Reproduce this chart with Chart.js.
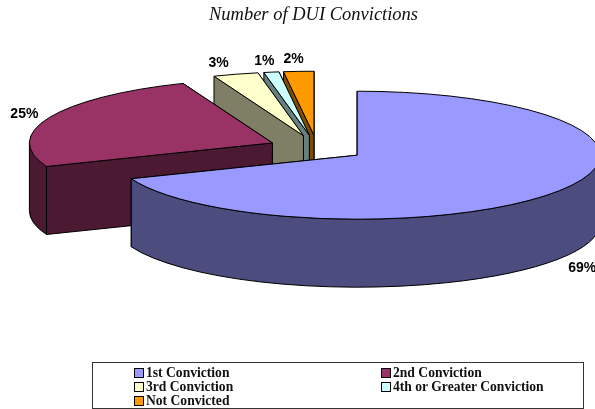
<!DOCTYPE html>
<html>
<head>
<meta charset="utf-8">
<script src="https://cdn.jsdelivr.net/npm/chart.js@4"></script>
<style>
  html, body { margin: 0; padding: 0; background: #fff; }
  #wrap { position: relative; width: 595px; height: 409px; overflow: hidden; }
  #legend {
    position: absolute; left: 92px; top: 362px; width: 492px; height: 47px; box-sizing: border-box;
    border: 1px solid #333; padding: 3px 0 0 41px;
    display: grid; grid-template-columns: 247px 1fr; grid-auto-rows: 14px;
    font: bold 13.6px "Liberation Serif", serif; color: #111;
  }
  #legend div { display: flex; align-items: center; white-space: nowrap; }
  #legend span { width: 8px; height: 8px; border: 1px solid #000; margin-right: 2px; flex: none; }
</style>
</head>
<body>
<div id="wrap">
  <canvas id="chart" width="595" height="409"></canvas>
  <div id="legend"></div>
</div>
<script>
const categories = ["1st Conviction", "2nd Conviction", "3rd Conviction", "4th or Greater Conviction", "Not Convicted"];
const convictionShares = [69, 25, 3, 1, 2];
const topColors = ["#9999FF", "#993366", "#FFFFCC", "#CCFFFF", "#FF9900"];
const sideColors = ["#4C4C7F", "#4C1933", "#7F7F66", "#667F7F", "#7F4C00"];
// label offset from the rim of each slice, in pixels
const labelNudgeX = [24, -25, -17, -7, -5];
const labelNudgeY = [9, -3, -11, -11, -12];

// the flat pie is squashed and moved to here when it is drawn
const pieX = 317, pieY = 148, pieRadius = 150, explode = 30;
const scaleX = 243 / pieRadius, scaleY = 64 / pieRadius, depth = 68;

function sliceGeometry(arc) {
  const mid = (arc.startAngle + arc.endAngle) / 2;
  return {
    cx: pieX + scaleX * Math.cos(mid) * explode,
    cy: pieY + scaleY * Math.sin(mid) * explode,
    rx: scaleX * arc.outerRadius,
    ry: scaleY * arc.outerRadius,
    mid: mid
  };
}

function radialWall(ctx, g, angle) {
  const px = g.cx + g.rx * Math.cos(angle), py = g.cy + g.ry * Math.sin(angle);
  ctx.beginPath();
  ctx.moveTo(g.cx, g.cy);
  ctx.lineTo(px, py);
  ctx.lineTo(px, py + depth);
  ctx.lineTo(g.cx, g.cy + depth);
  ctx.closePath();
  ctx.fill();
  ctx.stroke();
}

// only the front half of the rim can be seen
function rimWall(ctx, g, start, end) {
  const from = Math.max(start, 0), to = Math.min(end, Math.PI);
  if (from >= to) return;
  ctx.beginPath();
  ctx.ellipse(g.cx, g.cy, g.rx, g.ry, 0, from, to);
  ctx.ellipse(g.cx, g.cy + depth, g.rx, g.ry, 0, to, from, true);
  ctx.closePath();
  ctx.fill();
  ctx.stroke();
}

const pie3d = {
  id: "pie3d",
  beforeDatasetDraw(chart, args) {
    const ctx = chart.ctx;
    const arcs = args.meta.data;
    ctx.save();
    ctx.lineWidth = 1;
    ctx.strokeStyle = "#000";
    ctx.lineJoin = "round";
    // back slices first, the big front slice last
    for (let i = arcs.length - 1; i >= 0; i--) {
      const arc = arcs[i];
      const g = sliceGeometry(arc);
      ctx.fillStyle = sideColors[i];
      radialWall(ctx, g, arc.endAngle);
      radialWall(ctx, g, arc.startAngle);
      rimWall(ctx, g, arc.startAngle, arc.endAngle);

      ctx.save();
      ctx.translate(g.cx, g.cy);
      ctx.scale(scaleX, scaleY);
      ctx.translate(-arc.x, -arc.y);
      arc.draw(ctx);
      ctx.restore();

      ctx.beginPath();
      ctx.moveTo(g.cx, g.cy);
      ctx.ellipse(g.cx, g.cy, g.rx, g.ry, 0, arc.startAngle, arc.endAngle);
      ctx.closePath();
      ctx.stroke();
    }
    ctx.fillStyle = "#000";
    ctx.font = "bold 14px 'Liberation Sans', sans-serif";
    ctx.textAlign = "center";
    ctx.textBaseline = "middle";
    arcs.forEach((arc, i) => {
      const g = sliceGeometry(arc);
      const front = Math.sin(g.mid) > 0 ? depth : 0;
      ctx.fillText(convictionShares[i] + "%",
        g.cx + g.rx * Math.cos(g.mid) + labelNudgeX[i],
        g.cy + g.ry * Math.sin(g.mid) + front + labelNudgeY[i]);
    });
    ctx.restore();
    return false;
  }
};

const chart = new Chart(document.getElementById("chart"), {
  type: "pie",
  data: {
    labels: categories,
    datasets: [{
      data: convictionShares,
      backgroundColor: topColors,
      borderWidth: 0
    }]
  },
  options: {
    responsive: false,
    animation: false,
    events: [],
    radius: pieRadius,
    layout: { padding: { left: 32 } },
    plugins: {
      legend: { display: false },
      tooltip: { enabled: false },
      title: {
        display: true,
        text: "Number of DUI Convictions",
        color: "#111",
        font: { family: "'Liberation Serif', serif", size: 18.5, style: "italic", weight: "normal" },
        padding: { top: 4, bottom: 10 }
      }
    }
  },
  plugins: [pie3d]
});

// legend is plain html, filled from the chart's own legend items
const legendBox = document.getElementById("legend");
Chart.overrides.pie.plugins.legend.labels.generateLabels(chart).forEach((item) => {
  const row = document.createElement("div");
  const swatch = document.createElement("span");
  swatch.style.background = item.fillStyle;
  row.appendChild(swatch);
  row.appendChild(document.createTextNode(item.text));
  legendBox.appendChild(row);
});
</script>
</body>
</html>
